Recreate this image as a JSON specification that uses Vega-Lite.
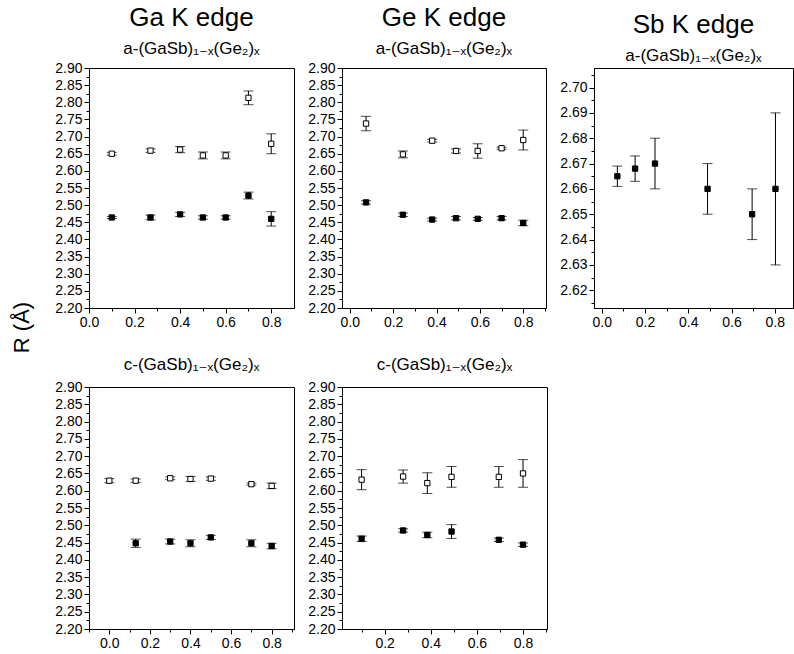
{
  "$schema": "https://vega.github.io/schema/vega-lite/v6.json",
  "padding": {"left": 11, "top": 4, "right": 0, "bottom": 0},
  "background": "white",
  "title": {"text": "R (Å)", "orient": "left", "fontSize": 22, "offset": 20, "anchor": "middle", "font": "Liberation Sans", "color": "black", "fontWeight": "normal"},
  "data": {"values": [
    {"panel": "ga_a", "kind": "open", "x": 0.1, "y": 2.650, "lo": 2.646, "hi": 2.654},
    {"panel": "ga_a", "kind": "open", "x": 0.27, "y": 2.659, "lo": 2.654, "hi": 2.664},
    {"panel": "ga_a", "kind": "open", "x": 0.4, "y": 2.662, "lo": 2.653, "hi": 2.671},
    {"panel": "ga_a", "kind": "open", "x": 0.5, "y": 2.645, "lo": 2.635, "hi": 2.655},
    {"panel": "ga_a", "kind": "open", "x": 0.6, "y": 2.645, "lo": 2.635, "hi": 2.655},
    {"panel": "ga_a", "kind": "open", "x": 0.7, "y": 2.813, "lo": 2.793, "hi": 2.833},
    {"panel": "ga_a", "kind": "open", "x": 0.8, "y": 2.679, "lo": 2.650, "hi": 2.708},
    {"panel": "ga_a", "kind": "filled", "x": 0.1, "y": 2.464, "lo": 2.461, "hi": 2.467},
    {"panel": "ga_a", "kind": "filled", "x": 0.27, "y": 2.464, "lo": 2.457, "hi": 2.471},
    {"panel": "ga_a", "kind": "filled", "x": 0.4, "y": 2.473, "lo": 2.467, "hi": 2.479},
    {"panel": "ga_a", "kind": "filled", "x": 0.5, "y": 2.464, "lo": 2.459, "hi": 2.469},
    {"panel": "ga_a", "kind": "filled", "x": 0.6, "y": 2.464, "lo": 2.459, "hi": 2.469},
    {"panel": "ga_a", "kind": "filled", "x": 0.7, "y": 2.528, "lo": 2.518, "hi": 2.538},
    {"panel": "ga_a", "kind": "filled", "x": 0.8, "y": 2.460, "lo": 2.439, "hi": 2.481},
    {"panel": "ge_a", "kind": "open", "x": 0.075, "y": 2.738, "lo": 2.717, "hi": 2.759},
    {"panel": "ge_a", "kind": "open", "x": 0.245, "y": 2.648, "lo": 2.638, "hi": 2.658},
    {"panel": "ge_a", "kind": "open", "x": 0.38, "y": 2.688, "lo": 2.684, "hi": 2.692},
    {"panel": "ge_a", "kind": "open", "x": 0.49, "y": 2.658, "lo": 2.652, "hi": 2.664},
    {"panel": "ge_a", "kind": "open", "x": 0.59, "y": 2.658, "lo": 2.637, "hi": 2.679},
    {"panel": "ge_a", "kind": "open", "x": 0.70, "y": 2.666, "lo": 2.663, "hi": 2.669},
    {"panel": "ge_a", "kind": "open", "x": 0.80, "y": 2.690, "lo": 2.661, "hi": 2.719},
    {"panel": "ge_a", "kind": "filled", "x": 0.075, "y": 2.508, "lo": 2.503, "hi": 2.513},
    {"panel": "ge_a", "kind": "filled", "x": 0.245, "y": 2.472, "lo": 2.467, "hi": 2.477},
    {"panel": "ge_a", "kind": "filled", "x": 0.38, "y": 2.458, "lo": 2.454, "hi": 2.462},
    {"panel": "ge_a", "kind": "filled", "x": 0.49, "y": 2.462, "lo": 2.457, "hi": 2.467},
    {"panel": "ge_a", "kind": "filled", "x": 0.59, "y": 2.460, "lo": 2.456, "hi": 2.464},
    {"panel": "ge_a", "kind": "filled", "x": 0.70, "y": 2.462, "lo": 2.457, "hi": 2.467},
    {"panel": "ge_a", "kind": "filled", "x": 0.80, "y": 2.448, "lo": 2.440, "hi": 2.456},
    {"panel": "sb_a", "kind": "filled", "x": 0.072, "y": 2.665, "lo": 2.661, "hi": 2.669},
    {"panel": "sb_a", "kind": "filled", "x": 0.154, "y": 2.668, "lo": 2.663, "hi": 2.673},
    {"panel": "sb_a", "kind": "filled", "x": 0.246, "y": 2.670, "lo": 2.660, "hi": 2.680},
    {"panel": "sb_a", "kind": "filled", "x": 0.489, "y": 2.660, "lo": 2.650, "hi": 2.670},
    {"panel": "sb_a", "kind": "filled", "x": 0.695, "y": 2.650, "lo": 2.640, "hi": 2.660},
    {"panel": "sb_a", "kind": "filled", "x": 0.803, "y": 2.660, "lo": 2.630, "hi": 2.690},
    {"panel": "ga_c", "kind": "open", "x": 0.0, "y": 2.629, "lo": 2.623, "hi": 2.635},
    {"panel": "ga_c", "kind": "open", "x": 0.13, "y": 2.629, "lo": 2.624, "hi": 2.634},
    {"panel": "ga_c", "kind": "open", "x": 0.3, "y": 2.636, "lo": 2.632, "hi": 2.640},
    {"panel": "ga_c", "kind": "open", "x": 0.4, "y": 2.634, "lo": 2.627, "hi": 2.641},
    {"panel": "ga_c", "kind": "open", "x": 0.5, "y": 2.635, "lo": 2.630, "hi": 2.640},
    {"panel": "ga_c", "kind": "open", "x": 0.7, "y": 2.619, "lo": 2.616, "hi": 2.622},
    {"panel": "ga_c", "kind": "open", "x": 0.8, "y": 2.614, "lo": 2.606, "hi": 2.622},
    {"panel": "ga_c", "kind": "filled", "x": 0.13, "y": 2.448, "lo": 2.436, "hi": 2.460},
    {"panel": "ga_c", "kind": "filled", "x": 0.3, "y": 2.453, "lo": 2.446, "hi": 2.460},
    {"panel": "ga_c", "kind": "filled", "x": 0.4, "y": 2.448, "lo": 2.438, "hi": 2.458},
    {"panel": "ga_c", "kind": "filled", "x": 0.5, "y": 2.465, "lo": 2.459, "hi": 2.471},
    {"panel": "ga_c", "kind": "filled", "x": 0.7, "y": 2.448, "lo": 2.438, "hi": 2.458},
    {"panel": "ga_c", "kind": "filled", "x": 0.8, "y": 2.440, "lo": 2.432, "hi": 2.448},
    {"panel": "ge_c", "kind": "open", "x": 0.10, "y": 2.632, "lo": 2.603, "hi": 2.661},
    {"panel": "ge_c", "kind": "open", "x": 0.28, "y": 2.641, "lo": 2.622, "hi": 2.660},
    {"panel": "ge_c", "kind": "open", "x": 0.385, "y": 2.622, "lo": 2.592, "hi": 2.652},
    {"panel": "ge_c", "kind": "open", "x": 0.49, "y": 2.640, "lo": 2.610, "hi": 2.670},
    {"panel": "ge_c", "kind": "open", "x": 0.695, "y": 2.640, "lo": 2.610, "hi": 2.670},
    {"panel": "ge_c", "kind": "open", "x": 0.80, "y": 2.650, "lo": 2.610, "hi": 2.690},
    {"panel": "ge_c", "kind": "filled", "x": 0.10, "y": 2.461, "lo": 2.453, "hi": 2.469},
    {"panel": "ge_c", "kind": "filled", "x": 0.28, "y": 2.485, "lo": 2.480, "hi": 2.490},
    {"panel": "ge_c", "kind": "filled", "x": 0.385, "y": 2.472, "lo": 2.464, "hi": 2.480},
    {"panel": "ge_c", "kind": "filled", "x": 0.49, "y": 2.482, "lo": 2.462, "hi": 2.502},
    {"panel": "ge_c", "kind": "filled", "x": 0.695, "y": 2.458, "lo": 2.453, "hi": 2.463},
    {"panel": "ge_c", "kind": "filled", "x": 0.80, "y": 2.444, "lo": 2.439, "hi": 2.449}
  ]},
  "vconcat": [
    {"hconcat": [
      {"width": 205, "height": 240,
       "title": {"text": "Ga K edge", "subtitle": "a-(GaSb)₁₋ₓ(Ge₂)ₓ", "fontSize": 26, "subtitleFontSize": 17, "subtitlePadding": 10, "offset": 4},
       "transform": [{"filter": "datum.panel == 'ga_a'"}],
       "encoding": {"x": {"field": "x", "type": "quantitative", "title": null, "scale": {"domain": [0, 0.9], "nice": false, "zero": false},
          "axis": {"values": [0, 0.1, 0.2, 0.3, 0.4, 0.5, 0.6, 0.7, 0.8], "labelExpr": "abs(datum.value*5 - round(datum.value*5)) < 0.001 ? format(datum.value, '.1f') : ''", "tickSize": {"condition": {"test": "abs(datum.value*5 - round(datum.value*5)) < 0.001", "value": 5}, "value": 3}}}},
       "layer": [
         {"mark": {"type": "errorbar", "ticks": true, "size": 10, "thickness": 1, "color": "black"},
          "encoding": {"y": {"field": "lo", "type": "quantitative", "title": null, "scale": {"domain": [2.2, 2.9], "nice": false, "zero": false},
             "axis": {"values": [2.2, 2.225, 2.25, 2.275, 2.3, 2.325, 2.35, 2.375, 2.4, 2.425, 2.45, 2.475, 2.5, 2.525, 2.55, 2.575, 2.6, 2.625, 2.65, 2.675, 2.7, 2.725, 2.75, 2.775, 2.8, 2.825, 2.85, 2.875, 2.9], "labelExpr": "abs(datum.value*20 - round(datum.value*20)) < 0.001 ? format(datum.value, '.2f') : ''", "tickSize": {"condition": {"test": "abs(datum.value*20 - round(datum.value*20)) < 0.001", "value": 5}, "value": 3}}},
            "y2": {"field": "hi"}}},
         {"mark": {"type": "point", "shape": "square", "size": 28, "filled": true, "stroke": "black", "strokeWidth": 1, "opacity": 1},
          "encoding": {"y": {"field": "y", "type": "quantitative", "title": null, "scale": {"domain": [2.2, 2.9], "nice": false, "zero": false},
             "axis": {"values": [2.2, 2.225, 2.25, 2.275, 2.3, 2.325, 2.35, 2.375, 2.4, 2.425, 2.45, 2.475, 2.5, 2.525, 2.55, 2.575, 2.6, 2.625, 2.65, 2.675, 2.7, 2.725, 2.75, 2.775, 2.8, 2.825, 2.85, 2.875, 2.9], "labelExpr": "abs(datum.value*20 - round(datum.value*20)) < 0.001 ? format(datum.value, '.2f') : ''", "tickSize": {"condition": {"test": "abs(datum.value*20 - round(datum.value*20)) < 0.001", "value": 5}, "value": 3}}},
            "fill": {"field": "kind", "type": "nominal", "scale": {"domain": ["open", "filled"], "range": ["white", "black"]}, "legend": null}}}
       ]},
      {"width": 204, "height": 240,
       "title": {"text": "Ge K edge", "subtitle": "a-(GaSb)₁₋ₓ(Ge₂)ₓ", "fontSize": 26, "subtitleFontSize": 17, "subtitlePadding": 10, "offset": 4},
       "transform": [{"filter": "datum.panel == 'ge_a'"}],
       "encoding": {"x": {"field": "x", "type": "quantitative", "title": null, "scale": {"domain": [-0.036, 0.905], "nice": false, "zero": false},
          "axis": {"values": [0, 0.1, 0.2, 0.3, 0.4, 0.5, 0.6, 0.7, 0.8, 0.9], "labelExpr": "abs(datum.value*5 - round(datum.value*5)) < 0.001 ? format(datum.value, '.1f') : ''", "tickSize": {"condition": {"test": "abs(datum.value*5 - round(datum.value*5)) < 0.001", "value": 5}, "value": 3}}}},
       "layer": [
         {"mark": {"type": "errorbar", "ticks": true, "size": 10, "thickness": 1, "color": "black"},
          "encoding": {"y": {"field": "lo", "type": "quantitative", "title": null, "scale": {"domain": [2.2, 2.9], "nice": false, "zero": false},
             "axis": {"values": [2.2, 2.225, 2.25, 2.275, 2.3, 2.325, 2.35, 2.375, 2.4, 2.425, 2.45, 2.475, 2.5, 2.525, 2.55, 2.575, 2.6, 2.625, 2.65, 2.675, 2.7, 2.725, 2.75, 2.775, 2.8, 2.825, 2.85, 2.875, 2.9], "labelExpr": "abs(datum.value*20 - round(datum.value*20)) < 0.001 ? format(datum.value, '.2f') : ''", "tickSize": {"condition": {"test": "abs(datum.value*20 - round(datum.value*20)) < 0.001", "value": 5}, "value": 3}}},
            "y2": {"field": "hi"}}},
         {"mark": {"type": "point", "shape": "square", "size": 28, "filled": true, "stroke": "black", "strokeWidth": 1, "opacity": 1},
          "encoding": {"y": {"field": "y", "type": "quantitative", "title": null, "scale": {"domain": [2.2, 2.9], "nice": false, "zero": false},
             "axis": {"values": [2.2, 2.225, 2.25, 2.275, 2.3, 2.325, 2.35, 2.375, 2.4, 2.425, 2.45, 2.475, 2.5, 2.525, 2.55, 2.575, 2.6, 2.625, 2.65, 2.675, 2.7, 2.725, 2.75, 2.775, 2.8, 2.825, 2.85, 2.875, 2.9], "labelExpr": "abs(datum.value*20 - round(datum.value*20)) < 0.001 ? format(datum.value, '.2f') : ''", "tickSize": {"condition": {"test": "abs(datum.value*20 - round(datum.value*20)) < 0.001", "value": 5}, "value": 3}}},
            "fill": {"field": "kind", "type": "nominal", "scale": {"domain": ["open", "filled"], "range": ["white", "black"]}, "legend": null}}}
       ]},
      {"width": 199, "height": 240,
       "title": {"text": "Sb K edge", "subtitle": "a-(GaSb)₁₋ₓ(Ge₂)ₓ", "fontSize": 26, "subtitleFontSize": 17, "subtitlePadding": 10, "offset": 4},
       "transform": [{"filter": "datum.panel == 'sb_a'"}],
       "encoding": {"x": {"field": "x", "type": "quantitative", "title": null, "scale": {"domain": [-0.036, 0.884], "nice": false, "zero": false},
          "axis": {"values": [0, 0.1, 0.2, 0.3, 0.4, 0.5, 0.6, 0.7, 0.8], "labelExpr": "abs(datum.value*5 - round(datum.value*5)) < 0.001 ? format(datum.value, '.1f') : ''", "tickSize": {"condition": {"test": "abs(datum.value*5 - round(datum.value*5)) < 0.001", "value": 5}, "value": 3}}}},
       "layer": [
         {"mark": {"type": "errorbar", "ticks": true, "size": 10, "thickness": 1, "color": "black"},
          "encoding": {"y": {"field": "lo", "type": "quantitative", "title": null, "scale": {"domain": [2.613, 2.7077], "nice": false, "zero": false},
             "axis": {"values": [2.615, 2.62, 2.625, 2.63, 2.635, 2.64, 2.645, 2.65, 2.655, 2.66, 2.665, 2.67, 2.675, 2.68, 2.685, 2.69, 2.695, 2.7, 2.705], "labelExpr": "abs(datum.value*100 - round(datum.value*100)) < 0.001 ? format(datum.value, '.2f') : ''", "tickSize": {"condition": {"test": "abs(datum.value*100 - round(datum.value*100)) < 0.001", "value": 5}, "value": 3}}},
            "y2": {"field": "hi"}}},
         {"mark": {"type": "point", "shape": "square", "size": 28, "filled": true, "stroke": "black", "strokeWidth": 1, "opacity": 1},
          "encoding": {"y": {"field": "y", "type": "quantitative", "title": null, "scale": {"domain": [2.613, 2.7077], "nice": false, "zero": false},
             "axis": {"values": [2.615, 2.62, 2.625, 2.63, 2.635, 2.64, 2.645, 2.65, 2.655, 2.66, 2.665, 2.67, 2.675, 2.68, 2.685, 2.69, 2.695, 2.7, 2.705], "labelExpr": "abs(datum.value*100 - round(datum.value*100)) < 0.001 ? format(datum.value, '.2f') : ''", "tickSize": {"condition": {"test": "abs(datum.value*100 - round(datum.value*100)) < 0.001", "value": 5}, "value": 3}}},
            "fill": {"field": "kind", "type": "nominal", "scale": {"domain": ["open", "filled"], "range": ["white", "black"]}, "legend": null}}}
       ]}
    ], "spacing": 48, "bounds": "flush"},
    {"hconcat": [
      {"width": 205, "height": 242,
       "title": {"text": "c-(GaSb)₁₋ₓ(Ge₂)ₓ", "fontSize": 17, "offset": 6},
       "transform": [{"filter": "datum.panel == 'ga_c'"}],
       "encoding": {"x": {"field": "x", "type": "quantitative", "title": null, "scale": {"domain": [-0.1, 0.91], "nice": false, "zero": false},
          "axis": {"values": [-0.1, 0, 0.1, 0.2, 0.3, 0.4, 0.5, 0.6, 0.7, 0.8, 0.9], "labelExpr": "abs(datum.value*5 - round(datum.value*5)) < 0.001 ? format(datum.value, '.1f') : ''", "tickSize": {"condition": {"test": "abs(datum.value*5 - round(datum.value*5)) < 0.001", "value": 5}, "value": 3}}}},
       "layer": [
         {"mark": {"type": "errorbar", "ticks": true, "size": 10, "thickness": 1, "color": "black"},
          "encoding": {"y": {"field": "lo", "type": "quantitative", "title": null, "scale": {"domain": [2.2, 2.9], "nice": false, "zero": false},
             "axis": {"values": [2.2, 2.225, 2.25, 2.275, 2.3, 2.325, 2.35, 2.375, 2.4, 2.425, 2.45, 2.475, 2.5, 2.525, 2.55, 2.575, 2.6, 2.625, 2.65, 2.675, 2.7, 2.725, 2.75, 2.775, 2.8, 2.825, 2.85, 2.875, 2.9], "labelExpr": "abs(datum.value*20 - round(datum.value*20)) < 0.001 ? format(datum.value, '.2f') : ''", "tickSize": {"condition": {"test": "abs(datum.value*20 - round(datum.value*20)) < 0.001", "value": 5}, "value": 3}}},
            "y2": {"field": "hi"}}},
         {"mark": {"type": "point", "shape": "square", "size": 28, "filled": true, "stroke": "black", "strokeWidth": 1, "opacity": 1},
          "encoding": {"y": {"field": "y", "type": "quantitative", "title": null, "scale": {"domain": [2.2, 2.9], "nice": false, "zero": false},
             "axis": {"values": [2.2, 2.225, 2.25, 2.275, 2.3, 2.325, 2.35, 2.375, 2.4, 2.425, 2.45, 2.475, 2.5, 2.525, 2.55, 2.575, 2.6, 2.625, 2.65, 2.675, 2.7, 2.725, 2.75, 2.775, 2.8, 2.825, 2.85, 2.875, 2.9], "labelExpr": "abs(datum.value*20 - round(datum.value*20)) < 0.001 ? format(datum.value, '.2f') : ''", "tickSize": {"condition": {"test": "abs(datum.value*20 - round(datum.value*20)) < 0.001", "value": 5}, "value": 3}}},
            "fill": {"field": "kind", "type": "nominal", "scale": {"domain": ["open", "filled"], "range": ["white", "black"]}, "legend": null}}}
       ]},
      {"width": 205, "height": 242,
       "title": {"text": "c-(GaSb)₁₋ₓ(Ge₂)ₓ", "fontSize": 17, "offset": 6},
       "transform": [{"filter": "datum.panel == 'ge_c'"}],
       "encoding": {"x": {"field": "x", "type": "quantitative", "title": null, "scale": {"domain": [0.015, 0.904], "nice": false, "zero": false},
          "axis": {"values": [0.1, 0.2, 0.3, 0.4, 0.5, 0.6, 0.7, 0.8, 0.9], "labelExpr": "abs(datum.value*5 - round(datum.value*5)) < 0.001 ? format(datum.value, '.1f') : ''", "tickSize": {"condition": {"test": "abs(datum.value*5 - round(datum.value*5)) < 0.001", "value": 5}, "value": 3}}}},
       "layer": [
         {"mark": {"type": "errorbar", "ticks": true, "size": 10, "thickness": 1, "color": "black"},
          "encoding": {"y": {"field": "lo", "type": "quantitative", "title": null, "scale": {"domain": [2.2, 2.9], "nice": false, "zero": false},
             "axis": {"values": [2.2, 2.225, 2.25, 2.275, 2.3, 2.325, 2.35, 2.375, 2.4, 2.425, 2.45, 2.475, 2.5, 2.525, 2.55, 2.575, 2.6, 2.625, 2.65, 2.675, 2.7, 2.725, 2.75, 2.775, 2.8, 2.825, 2.85, 2.875, 2.9], "labelExpr": "abs(datum.value*20 - round(datum.value*20)) < 0.001 ? format(datum.value, '.2f') : ''", "tickSize": {"condition": {"test": "abs(datum.value*20 - round(datum.value*20)) < 0.001", "value": 5}, "value": 3}}},
            "y2": {"field": "hi"}}},
         {"mark": {"type": "point", "shape": "square", "size": 28, "filled": true, "stroke": "black", "strokeWidth": 1, "opacity": 1},
          "encoding": {"y": {"field": "y", "type": "quantitative", "title": null, "scale": {"domain": [2.2, 2.9], "nice": false, "zero": false},
             "axis": {"values": [2.2, 2.225, 2.25, 2.275, 2.3, 2.325, 2.35, 2.375, 2.4, 2.425, 2.45, 2.475, 2.5, 2.525, 2.55, 2.575, 2.6, 2.625, 2.65, 2.675, 2.7, 2.725, 2.75, 2.775, 2.8, 2.825, 2.85, 2.875, 2.9], "labelExpr": "abs(datum.value*20 - round(datum.value*20)) < 0.001 ? format(datum.value, '.2f') : ''", "tickSize": {"condition": {"test": "abs(datum.value*20 - round(datum.value*20)) < 0.001", "value": 5}, "value": 3}}},
            "fill": {"field": "kind", "type": "nominal", "scale": {"domain": ["open", "filled"], "range": ["white", "black"]}, "legend": null}}}
       ]}
    ], "spacing": 48, "bounds": "flush"}
  ],
  "spacing": 25,
  "config": {
    "view": {"stroke": "black", "strokeWidth": 1},
    "axis": {"domainColor": "black", "domainWidth": 1, "tickColor": "black", "tickWidth": 1, "labelColor": "black", "labelFont": "Liberation Sans", "labelFontSize": 14, "labelPadding": 2, "labelOverlap": false, "labelFlush": false, "grid": false},
    "title": {"font": "Liberation Sans, DejaVu Sans", "subtitleFont": "Liberation Sans, DejaVu Sans", "color": "black", "subtitleColor": "black", "fontWeight": "normal", "subtitleFontWeight": "normal", "anchor": "middle"}
  }
}
